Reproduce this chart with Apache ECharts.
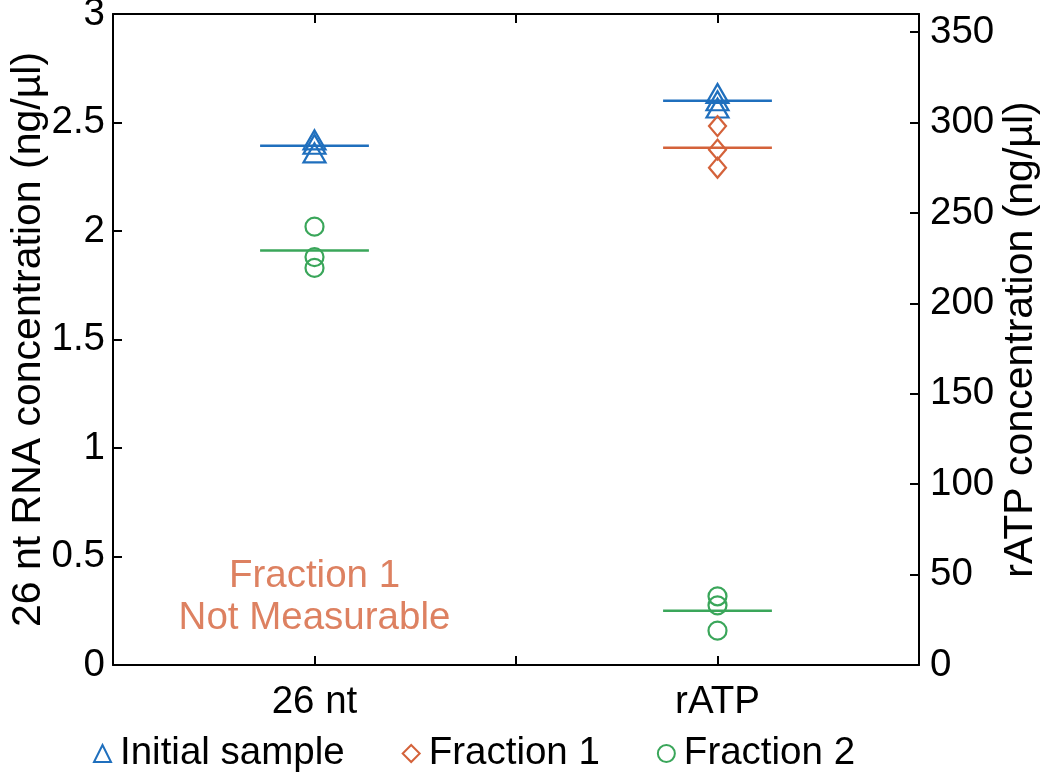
<!DOCTYPE html>
<html>
<head>
<meta charset="utf-8">
<script src="https://cdn.jsdelivr.net/npm/echarts@6/dist/echarts.min.js"></script>
<style>
html,body{margin:0;padding:0;background:#fff;}
#chart{width:1050px;height:778px;}
</style>
</head>
<body>
<div id="chart"></div>
<script>
// categories (x positions 1 and 2)
const categories = ['26 nt', 'rATP'];
const categoryPos = [1, 2];
// 26 nt RNA values (left axis, ng/µl)
const rnaInitial = [2.42, 2.40, 2.36];
const rnaFraction2 = [2.02, 1.88, 1.83];
// rATP values (right axis, ng/µl)
const atpInitial = [316, 312, 308];
const atpFraction1 = [298, 285, 275];
const atpFraction2 = [38, 33, 19];
// axis ticks
const leftTicks = { min: 0, max: 3, interval: 0.5 };
const rightTicks = { min: 0, max: 360, interval: 50 };
const note = ['Fraction 1', 'Not Measurable'];

const BLUE = '#1f6fbd', ORANGE = '#d4623a', GREEN = '#3aa65a';
const FONT = 'Liberation Sans, Arial, Helvetica, sans-serif';
const FS = 38.5;
const TITLE_FS = 41;
const halfWidth = 0.135;

function mean(a){ return a.reduce((s,v)=>s+v,0)/a.length; }
function pts(x, arr){ return arr.map(v => [x, v]); }
function meanLine(x, arr){ const m = mean(arr); return [[x-halfWidth, m],[x+halfWidth, m]]; }

function scatter(name, yIdx, x, arr, symbol, size, color){
  return {
    name: name, type: 'scatter', xAxisIndex: 0, yAxisIndex: yIdx,
    symbol: symbol, symbolSize: size,
    itemStyle: { color: 'rgba(0,0,0,0)', borderColor: color, borderWidth: 2.2, opacity: 1 },
    data: pts(x, arr), z: 5
  };
}
function mline(name, yIdx, x, arr, color){
  return {
    name: name, type: 'line', xAxisIndex: 0, yAxisIndex: yIdx,
    symbol: 'none', lineStyle: { color: color, width: 2.5 },
    itemStyle: { color: color },
    data: meanLine(x, arr), z: 4, silent: true
  };
}

const chart = echarts.init(document.getElementById('chart'));
const axisLineStyle = { color: '#000', width: 2 };
chart.setOption({
  animation: false,
  backgroundColor: '#fff',
  textStyle: { fontFamily: FONT },
  grid: { left: 113, right: 131, top: 14, bottom: 113, containLabel: false, outerBoundsMode: 'none' },
  legend: {
    left: 88, top: 729,
    itemWidth: 17, itemHeight: 17, itemGap: 57,
    textStyle: { fontFamily: FONT, fontSize: FS, color: '#000', padding: [0,0,0,4] },
    data: [
      { name: 'Initial sample', icon: 'triangle', itemStyle: { color: 'rgba(0,0,0,0)', borderColor: BLUE, borderWidth: 2 } },
      { name: 'Fraction 1', icon: 'diamond', itemStyle: { color: 'rgba(0,0,0,0)', borderColor: ORANGE, borderWidth: 2 } },
      { name: 'Fraction 2', icon: 'circle', itemStyle: { color: 'rgba(0,0,0,0)', borderColor: GREEN, borderWidth: 2 } }
    ]
  },
  xAxis: [
    {
      type: 'value', min: 0.5, max: 2.5, interval: 0.5, position: 'bottom',
      axisLine: { show: true, lineStyle: axisLineStyle },
      axisTick: { show: true, inside: true, length: 9, lineStyle: { color: '#000', width: 2 } },
      splitLine: { show: false },
      axisLabel: {
        show: true, margin: 18, color: '#000', fontFamily: FONT, fontSize: FS,
        formatter: v => { const i = categoryPos.indexOf(v); return i >= 0 ? categories[i] : ''; }
      }
    },
    {
      type: 'value', min: 0.5, max: 2.5, interval: 0.5, position: 'top',
      axisLine: { show: true, onZero: false, lineStyle: axisLineStyle },
      axisTick: { show: true, inside: true, length: 9, lineStyle: { color: '#000', width: 2 } },
      splitLine: { show: false }, axisLabel: { show: false }
    }
  ],
  yAxis: [
    {
      type: 'value', position: 'left', min: leftTicks.min, max: leftTicks.max, interval: leftTicks.interval,
      name: '26 nt RNA concentration (ng/µl)', nameLocation: 'middle', nameGap: 64, nameMoveOverlap: false,
      nameTextStyle: { fontFamily: FONT, fontSize: TITLE_FS, color: '#000' },
      axisLine: { show: true, onZero: false, lineStyle: axisLineStyle },
      axisTick: { show: true, inside: true, length: 9, lineStyle: { color: '#000', width: 2 } },
      splitLine: { show: false },
      axisLabel: { margin: 8, color: '#000', fontFamily: FONT, fontSize: FS }
    },
    {
      type: 'value', position: 'right', min: rightTicks.min, max: rightTicks.max, interval: rightTicks.interval,
      name: 'rATP concentration (ng/µl)', nameLocation: 'middle', nameGap: 81, nameRotate: 90, nameMoveOverlap: false,
      nameTextStyle: { fontFamily: FONT, fontSize: TITLE_FS, color: '#000' },
      axisLine: { show: true, onZero: false, lineStyle: axisLineStyle },
      axisTick: { show: true, inside: true, length: 9, lineStyle: { color: '#000', width: 2 } },
      splitLine: { show: false },
      axisLabel: { margin: 11, color: '#000', fontFamily: FONT, fontSize: FS, showMaxLabel: false,
        formatter: v => (v % rightTicks.interval === 0 ? String(v) : '') }
    }
  ],
  series: [
    mline('Initial sample', 0, categoryPos[0], rnaInitial, BLUE),
    mline('Fraction 2', 0, categoryPos[0], rnaFraction2, GREEN),
    mline('Initial sample', 1, categoryPos[1], atpInitial, BLUE),
    mline('Fraction 1', 1, categoryPos[1], atpFraction1, ORANGE),
    mline('Fraction 2', 1, categoryPos[1], atpFraction2, GREEN),
    scatter('Initial sample', 0, categoryPos[0], rnaInitial, 'triangle', [22, 19], BLUE),
    scatter('Fraction 2', 0, categoryPos[0], rnaFraction2, 'circle', 18, GREEN),
    scatter('Initial sample', 1, categoryPos[1], atpInitial, 'triangle', [22, 19], BLUE),
    scatter('Fraction 1', 1, categoryPos[1], atpFraction1, 'diamond', [17, 20], ORANGE),
    scatter('Fraction 2', 1, categoryPos[1], atpFraction2, 'circle', 18, GREEN),
    {
      name: 'note', type: 'scatter', xAxisIndex: 0, yAxisIndex: 0, symbolSize: 0, silent: true,
      data: [[categoryPos[0], 0.31]],
      label: { show: true, position: 'inside', formatter: note.join('\n'), color: ORANGE,
        fontFamily: FONT, fontSize: FS, lineHeight: 42, align: 'center', verticalAlign: 'middle' }
    }
  ]
});
</script>
</body>
</html>
